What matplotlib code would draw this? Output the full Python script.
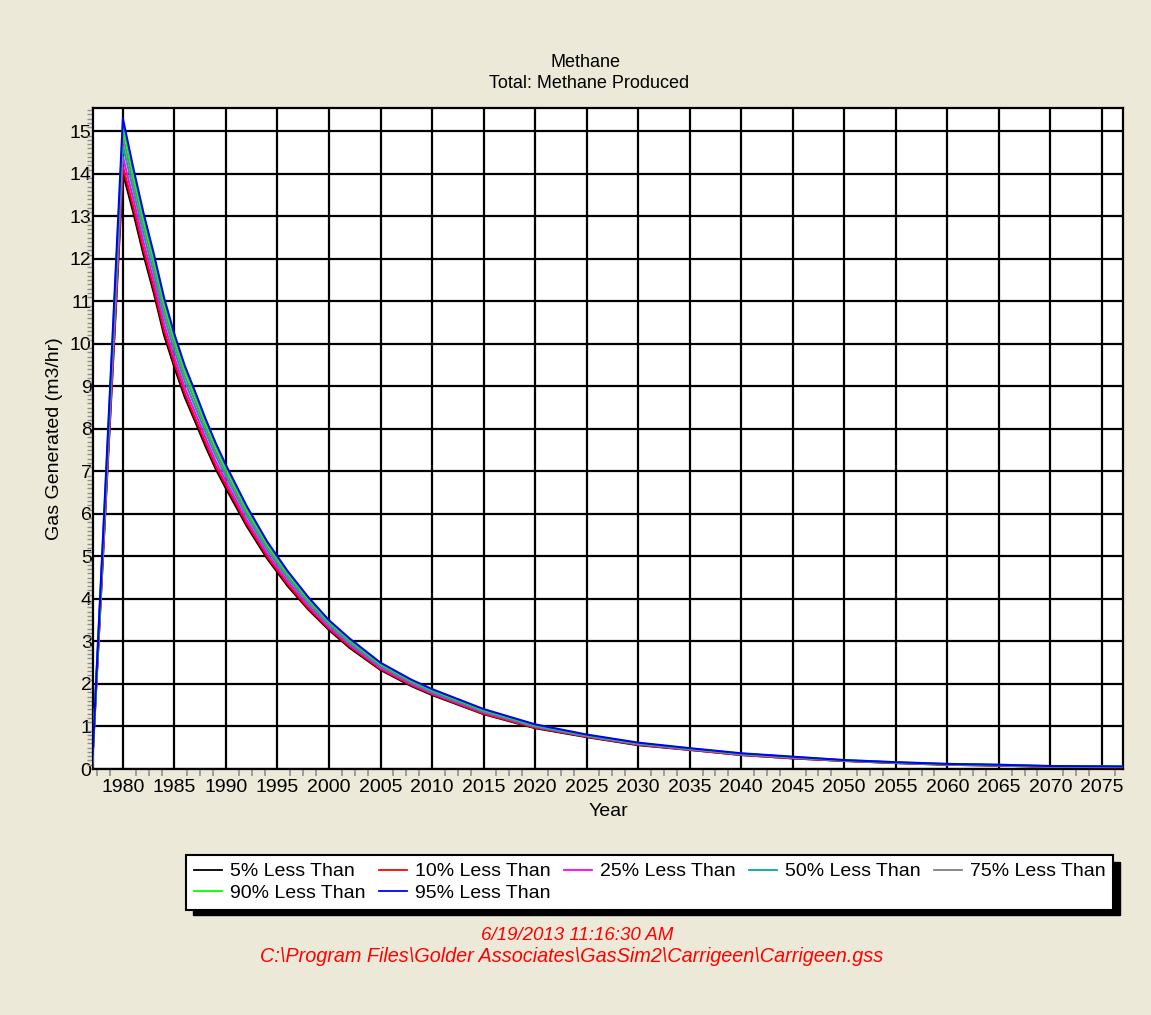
import matplotlib
matplotlib.use("Agg")
import matplotlib.pyplot as plt
from matplotlib.patches import Rectangle
from matplotlib.ticker import MultipleLocator

plt.rcParams['font.family'] = ['Liberation Sans', 'DejaVu Sans']

years = [1977, 1980, 1981, 1982, 1983, 1984, 1985, 1986, 1987, 1988, 1989, 1990,
         1992, 1994, 1996, 1998, 2000, 2002, 2005, 2008, 2010, 2015, 2020, 2025,
         2030, 2035, 2040, 2045, 2050, 2055, 2060, 2065, 2070, 2077]

p05 = [0, 14.02, 13.10, 12.10, 11.20, 10.20, 9.45, 8.75, 8.18, 7.60, 7.06, 6.60,
       5.72, 4.95, 4.30, 3.75, 3.27, 2.85, 2.33, 1.95, 1.74, 1.29, 0.96, 0.75,
       0.56, 0.45, 0.33, 0.25, 0.19, 0.14, 0.10, 0.08, 0.05, 0.04]
p10 = [0, 14.17, 13.23, 12.22, 11.31, 10.31, 9.54, 8.84, 8.26, 7.68, 7.13, 6.67,
       5.78, 5.00, 4.34, 3.78, 3.30, 2.88, 2.35, 1.97, 1.76, 1.30, 0.97, 0.76,
       0.57, 0.45, 0.33, 0.25, 0.19, 0.14, 0.10, 0.08, 0.05, 0.04]
p25 = [0, 14.40, 13.42, 12.39, 11.48, 10.46, 9.68, 8.97, 8.39, 7.80, 7.24, 6.77,
       5.86, 5.07, 4.41, 3.84, 3.34, 2.92, 2.38, 2.00, 1.78, 1.33, 0.99, 0.77,
       0.58, 0.46, 0.34, 0.26, 0.20, 0.15, 0.11, 0.09, 0.06, 0.05]
p50 = [0, 14.66, 13.63, 12.59, 11.66, 10.64, 9.84, 9.12, 8.53, 7.93, 7.37, 6.88,
       5.96, 5.15, 4.48, 3.90, 3.39, 2.96, 2.42, 2.03, 1.81, 1.35, 1.00, 0.78,
       0.59, 0.47, 0.35, 0.27, 0.20, 0.15, 0.11, 0.09, 0.06, 0.05]
p75 = [0, 14.89, 13.81, 12.77, 11.83, 10.80, 9.98, 9.25, 8.66, 8.04, 7.47, 6.97,
       6.04, 5.22, 4.54, 3.95, 3.43, 3.00, 2.45, 2.05, 1.84, 1.37, 1.02, 0.79,
       0.60, 0.48, 0.36, 0.28, 0.20, 0.15, 0.11, 0.09, 0.06, 0.05]
p90 = [0, 15.11, 13.99, 12.93, 11.98, 10.95, 10.11, 9.38, 8.78, 8.15, 7.58, 7.07,
       6.12, 5.29, 4.60, 4.00, 3.47, 3.04, 2.47, 2.08, 1.86, 1.39, 1.04, 0.80,
       0.61, 0.48, 0.36, 0.28, 0.21, 0.16, 0.12, 0.10, 0.07, 0.06]
p95 = [0, 15.30, 14.15, 13.08, 12.12, 11.08, 10.23, 9.49, 8.88, 8.25, 7.67, 7.15,
       6.19, 5.35, 4.65, 4.04, 3.50, 3.07, 2.50, 2.10, 1.88, 1.41, 1.05, 0.81,
       0.62, 0.49, 0.37, 0.29, 0.21, 0.16, 0.12, 0.10, 0.07, 0.06]

labels = ['5% Less Than', '10% Less Than', '25% Less Than', '50% Less Than',
          '75% Less Than', '90% Less Than', '95% Less Than']
series = [p05, p10, p25, p50, p75, p90, p95]
colors = ['#000000', '#FF0000', '#FF00FF', '#00A8A8', '#808080', '#00FF00', '#0000FF']

x_major = list(range(1980, 2080, 5))
y_major = list(range(0, 16))

bg = '#ECE9D8'
fig = plt.figure(figsize=(11.51, 10.15), dpi=100, facecolor=bg)
ax = fig.add_axes([93 / 1151, 1 - 769 / 1015, 1030 / 1151, 661 / 1015])
ax.set_facecolor('white')

lines = []
for vals, col, lab in zip(series, colors, labels):
    ln, = ax.plot(years, vals, color=col, linewidth=1.5, label=lab, zorder=3)
    lines.append(ln)

ax.set_xlim(1977.1, 2077.05)
ax.set_ylim(0, 15.55)
ax.set_xticks(x_major)
ax.set_yticks(y_major)
ax.xaxis.set_minor_locator(MultipleLocator(1.25))
ax.yaxis.set_minor_locator(MultipleLocator(0.1))
ax.tick_params(which='major', length=0, labelsize=14)
ax.tick_params(axis='x', which='major', pad=7)
ax.tick_params(axis='y', which='major', pad=1)
ax.tick_params(axis='x', which='minor', length=5, width=1.2, color='#909090', direction='out')
ax.tick_params(axis='y', which='minor', length=4, width=1.0, color='#909090', direction='out')
ax.grid(True, which='major', color='black', linewidth=1.6, zorder=1)
ax.set_axisbelow(True)
for sp in ax.spines.values():
    sp.set_color('black')
    sp.set_linewidth(1.6)

ax.set_xlabel('Year', fontsize=14, labelpad=5)
ax.set_ylabel('Gas Generated (m3/hr)', fontsize=14, labelpad=5)

fig.text(585 / 1151, 1 - 62 / 1015, 'Methane', ha='center', va='center', fontsize=13)
fig.text(589 / 1151, 1 - 83 / 1015, 'Total: Methane Produced', ha='center', va='center', fontsize=13)

# legend box with a hard black shadow; order so that rows read left to right
lx0, lx1 = 186 / 1151, 1113 / 1151
ly0, ly1 = 1 - 908 / 1015, 1 - 855 / 1015
order = [0, 5, 1, 6, 2, 3, 4]
fig.patches.append(Rectangle((lx0 + 7 / 1151, ly0 - 7 / 1015), lx1 - lx0, ly1 - ly0,
                             transform=fig.transFigure, facecolor='black',
                             edgecolor='black', zorder=1))
leg = fig.legend([lines[i] for i in order], [labels[i] for i in order],
                 loc='upper left', bbox_to_anchor=(lx0, ly0, lx1 - lx0, ly1 - ly0),
                 mode='expand', ncol=5, fontsize=14, frameon=True, fancybox=False,
                 framealpha=1, edgecolor='black', borderaxespad=0, handlelength=1.45,
                 handletextpad=0.4, labelspacing=0.22, borderpad=0.4)
leg.get_frame().set_linewidth(1.5)
leg.set_zorder(2)
for h in leg.get_lines():
    h.set_linewidth(1.3)

fig.text(577 / 1151, 1 - 935 / 1015, '6/19/2013 11:16:30 AM', ha='center', va='center',
         fontsize=13.5, style='italic', color='#FF0000')
fig.text(572 / 1151, 1 - 957 / 1015,
         'C:\\Program Files\\Golder Associates\\GasSim2\\Carrigeen\\Carrigeen.gss',
         ha='center', va='center', fontsize=14.3, style='italic', color='#FF0000')

fig.savefig('out.png', dpi=100, facecolor=bg)
